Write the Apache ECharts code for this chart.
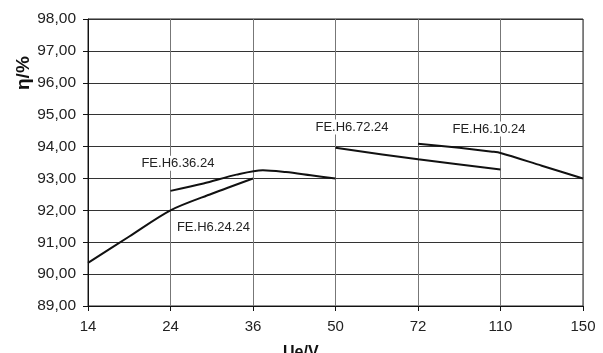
<!DOCTYPE html>
<html><head><meta charset="utf-8">
<script src="https://cdn.jsdelivr.net/npm/echarts@6/dist/echarts.min.js"></script>
<style>html,body{margin:0;padding:0;background:#fff}#c{width:603px;height:353px}</style>
</head><body><div id="c"></div>
<script>
const xTickLabels = ['14', '24', '36', '50', '72', '110', '150'];
const yMin = 89, yMax = 98;

const s2424X = [0, 0.5, 1, 1.5, 2];
const s2424Y = [90.35, 91.18, 92.0, 92.52, 93.0];

const s3624X = [1, 1.4, 1.8, 2.12, 2.4, 2.7, 3];
const s3624Y = [92.61, 92.84, 93.12, 93.26, 93.2, 93.1, 93.0];

const s7224X = [3, 4, 5];
const s7224Y = [93.96, 93.6, 93.28];

const s1024X = [4, 4.5, 4.9, 5, 5.5, 6];
const s1024Y = [94.09, 93.96, 93.84, 93.8, 93.4, 93.0];

const seriesNames = ['FE.H6.24.24', 'FE.H6.36.24', 'FE.H6.72.24', 'FE.H6.10.24'];
const labelAt = [[1.52, 91.45], [1.09, 93.48], [3.2, 94.61], [4.86, 94.55]];

const font = '"Liberation Sans", Arial, sans-serif';
const zip = (xs, ys) => xs.map((x, i) => [x, ys[i]]);
const all = [zip(s2424X, s2424Y), zip(s3624X, s3624Y), zip(s7224X, s7224Y), zip(s1024X, s1024Y)];

const chart = echarts.init(document.getElementById('c'));
chart.setOption({
  animation: false,
  grid: { left: 88, right: 20, top: 19, bottom: 47, show: true, borderColor: '#222', borderWidth: 1 },
  title: [
    { text: 'Ue/V', left: 278, top: 340, textStyle: { fontFamily: font, fontSize: 16, fontWeight: 'bold', color: '#111' } },
  ],
  graphic: [
    { type: 'text', x: 14, y: 90, rotation: Math.PI / 2, style: { text: 'η/%', font: 'bold 19px ' + font, fill: '#111' } }
  ],
  xAxis: {
    type: 'value', min: 0, max: 6, interval: 1,
    axisLine: { show: true, lineStyle: { color: '#111', width: 1 } },
    axisTick: { show: true, inside: false, length: 5, lineStyle: { color: '#111' } },
    axisLabel: { margin: 13, fontFamily: font, fontSize: 15, color: '#222', formatter: v => xTickLabels[v] },
    splitLine: { show: true, lineStyle: { color: '#777', width: 1 } }
  },
  yAxis: {
    type: 'value', min: yMin, max: yMax, interval: 1,
    axisLine: { show: true, lineStyle: { color: '#111', width: 1 } },
    axisTick: { show: true, inside: false, length: 5, lineStyle: { color: '#111' } },
    axisLabel: { margin: 12, fontFamily: font, fontSize: 15.5, color: '#222', formatter: v => v.toFixed(2).replace('.', ',') },
    splitLine: { show: true, lineStyle: { color: '#333', width: 1 } }
  },
  series: all.map((d, i) => ({
    type: 'line', name: seriesNames[i], data: d, smooth: 0.3, symbol: 'none',
    lineStyle: { color: '#111', width: 2 },
    z: 3,
    markPoint: {
      symbol: 'rect', symbolSize: 0, z: 5,
      data: [{ coord: labelAt[i], value: seriesNames[i] }],
      label: { show: true, position: 'inside', formatter: seriesNames[i], fontFamily: font, fontSize: 13, color: '#222', backgroundColor: '#fff', padding: [1, 2] }
    }
  }))
});
</script></body></html>
